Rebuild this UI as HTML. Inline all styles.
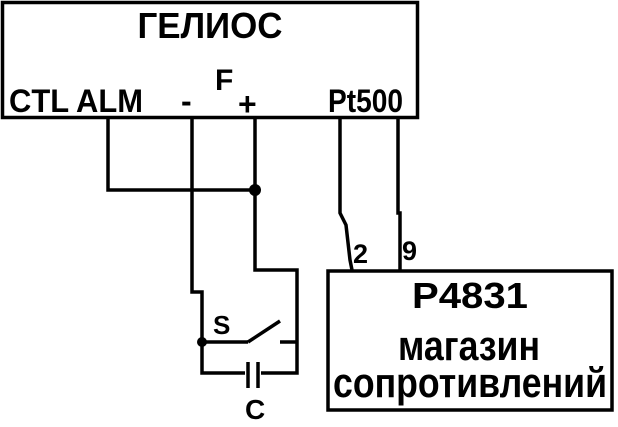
<!DOCTYPE html>
<html><head><meta charset="utf-8"><style>html,body{margin:0;padding:0;background:#fff}</style></head>
<body>
<svg width="618" height="422" viewBox="0 0 618 422" xmlns="http://www.w3.org/2000/svg" style="font-family:'Liberation Sans',sans-serif" fill="#000">
<g stroke="#000" stroke-width="3.5" fill="none">
<rect x="2.5" y="2.5" width="415" height="115"/>
<rect x="328" y="271" width="284" height="139"/>
<polyline points="108,118 108,190 255,190"/>
<polyline points="192,118 192,292 202,292 202,373 245,373"/>
<polyline points="255,118 255,270 297,270 297,373 261,373"/>
<line x1="202" y1="342" x2="248" y2="342"/>
<line x1="248" y1="342" x2="280" y2="321"/>
<line x1="280" y1="342" x2="297" y2="342"/>
<line x1="248" y1="362" x2="248" y2="388"/>
<line x1="258" y1="362" x2="258" y2="388"/>
<polyline points="340,118 340,213 346,225 350,260 352,270"/>
<polyline points="398,118 398,213 400,213 400,270"/>
</g>
<circle cx="255" cy="190" r="6"/>
<circle cx="202" cy="342" r="5"/>
<g style="font-weight:bold">
<text x="210" y="38" style="font-size:36px" text-anchor="middle" textLength="145" lengthAdjust="spacingAndGlyphs">ГЕЛИОС</text>
<text x="9" y="112" style="font-size:32px" textLength="134" lengthAdjust="spacingAndGlyphs">CTL ALM</text>
<text x="181" y="112" style="font-size:32px">-</text>
<text x="238" y="115" style="font-size:32px">+</text>
<text x="215" y="90" style="font-size:30px">F</text>
<text x="328" y="112" style="font-size:32px" textLength="75" lengthAdjust="spacingAndGlyphs">Pt500</text>
<text x="353" y="263" style="font-size:27px">2</text>
<text x="402" y="260" style="font-size:27px">9</text>
<text x="213" y="334" style="font-size:26px">S</text>
<text x="245" y="419" style="font-size:28px">C</text>
</g>
<g style="font-weight:bold">
<text x="470" y="308" style="font-size:36px" text-anchor="middle" textLength="116" lengthAdjust="spacingAndGlyphs">P4831</text>
<text x="469" y="360" style="font-size:42px" text-anchor="middle" textLength="142" lengthAdjust="spacingAndGlyphs">магазин</text>
<text x="470" y="397" style="font-size:42px" text-anchor="middle" textLength="274" lengthAdjust="spacingAndGlyphs">сопротивлений</text>
</g>
</svg>
</body></html>
